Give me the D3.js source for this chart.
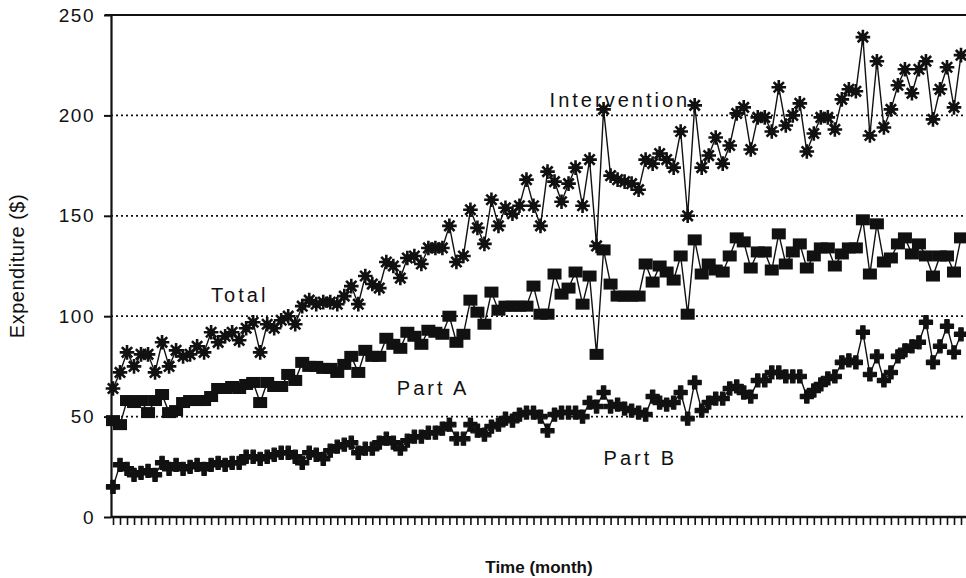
<!DOCTYPE html>
<html>
<head>
<meta charset="utf-8">
<script src="https://cdn.jsdelivr.net/npm/d3@7"></script>
<style>
  html, body { margin: 0; padding: 0; background: #fff; }
  svg text { font-family: "Liberation Sans", Arial, Helvetica, sans-serif; fill: #111; }
</style>
</head>
<body>
<div id="chart"></div>
<script>
// monthly expenditure ($), one value per month
const months = d3.range(122);

const totalValues = [
  64, 72, 82, 75, 81, 81, 72, 87, 75, 83, 80, 81, 85, 82, 92, 87, 90, 92, 88, 94,
  97, 82, 96, 94, 98, 100, 96, 105, 108, 106, 107, 107, 106, 110, 115, 106, 120, 116, 114, 127,
  125, 119, 129, 130, 126, 134, 134, 134, 145, 127, 130, 153, 144, 136, 158, 145, 154, 151, 155, 168,
  155, 145, 172, 167, 157, 166, 174, 155, 178, 135, 203, 170, 168, 167, 166, 163, 178, 176, 181, 178,
  174, 192, 150, 205, 174, 180, 189, 176, 185, 201, 204, 183, 199, 199, 192, 214, 195, 200, 206, 182,
  191, 199, 199, 193, 208, 213, 212, 239, 190, 227, 194, 203, 215, 223, 211, 223, 227, 198, 213, 224,
  204, 230
];

const partAValues = [
  48, 46, 58, 57, 58, 52, 58, 61, 52, 53, 57, 58, 58, 58, 60, 64, 64, 65, 64, 66,
  67, 57, 67, 65, 65, 71, 68, 77, 75, 75, 74, 74, 72, 76, 80, 72, 83, 80, 80, 89,
  86, 84, 92, 90, 86, 93, 92, 91, 100, 87, 91, 108, 102, 96, 112, 103, 105, 105, 105, 105,
  115, 101, 101, 121, 111, 114, 122, 106, 120, 81, 133, 116, 110, 110, 110, 110, 126, 117, 125, 122,
  118, 130, 101, 138, 121, 126, 123, 122, 130, 139, 137, 124, 132, 132, 123, 141, 126, 132, 136, 124,
  130, 134, 134, 125, 131, 134, 134, 148, 121, 146, 127, 129, 136, 139, 131, 136, 130, 120, 130, 130,
  122, 139
];

const partBValues = [
  15, 26, 24, 21, 22, 23, 21, 27, 24, 26, 24, 25, 26, 24, 26, 27, 26, 27, 27, 30,
  30, 29, 30, 31, 32, 32, 30, 27, 32, 31, 29, 33, 35, 36, 37, 32, 34, 34, 37, 39,
  37, 34, 38, 40, 40, 42, 42, 44, 46, 39, 39, 46, 43, 41, 45, 46, 49, 48, 51, 52,
  52, 50, 43, 51, 52, 52, 52, 50, 57, 55, 62, 55, 56, 54, 53, 52, 51, 60, 57, 56,
  57, 62, 49, 67, 53, 57, 59, 59, 64, 65, 62, 60, 68, 68, 72, 72, 70, 70, 70, 60,
  63, 66, 69, 70, 77, 78, 77, 92, 71, 80, 68, 72, 80, 83, 85, 87, 97, 77, 85, 95,
  82, 91
];

const yTicks = [0, 50, 100, 150, 200, 250];
const gridValues = [50, 100, 150, 200];

const seriesLabels = [
  { text: "Total", month: 14, value: 107 },
  { text: "Part A", month: 40.5, value: 61 },
  { text: "Part B", month: 70, value: 26 },
  { text: "Intervention", month: 62.3, value: 204 }
];

const width = 966, height = 578;
const plot = { left: 111, right: 966, top: 15, bottom: 517 };

const svg = d3.select('#chart')
  .append('svg')
  .attr('width', width)
  .attr('height', height);

const xScale = d3.scaleLinear()
  .domain([0, months.length - 1])
  .range([113, 961]);

const yScale = d3.scaleLinear()
  .domain([0, 250])
  .range([plot.bottom, plot.top]);

// dotted gridlines
svg.append('g')
  .selectAll('line')
  .data(gridValues)
  .join('line')
  .attr('x1', plot.left)
  .attr('x2', plot.right)
  .attr('y1', d => yScale(d))
  .attr('y2', d => yScale(d))
  .attr('stroke', '#111')
  .attr('stroke-width', 1.7)
  .attr('stroke-dasharray', '2,3');

// top frame line
svg.append('line')
  .attr('x1', plot.left - 6).attr('x2', plot.right)
  .attr('y1', plot.top).attr('y2', plot.top)
  .attr('stroke', '#111').attr('stroke-width', 2.2);

// y axis
const yAxis = d3.axisLeft(yScale)
  .tickValues(yTicks)
  .tickSize(7)
  .tickSizeOuter(0)
  .tickPadding(9);

const yG = svg.append('g')
  .attr('transform', `translate(${plot.left},0)`)
  .call(yAxis);
yG.select('.domain').attr('stroke', '#111').attr('stroke-width', 2.2);
yG.selectAll('.tick line').attr('stroke', '#111').attr('stroke-width', 2);
yG.selectAll('.tick text')
  .style('font-size', '19px')
  .style('letter-spacing', '1.5px')
  .attr('fill', '#111');

// x axis with a tick for every month
const xAxis = d3.axisBottom(xScale)
  .tickValues(months)
  .tickFormat('')
  .tickSize(8)
  .tickSizeOuter(0);

const xG = svg.append('g')
  .attr('transform', `translate(0,${plot.bottom})`)
  .call(xAxis);
xG.select('.domain').remove();
xG.selectAll('.tick line').attr('stroke', '#111').attr('stroke-width', 1.6);
svg.append('line')
  .attr('x1', plot.left).attr('x2', plot.right)
  .attr('y1', plot.bottom).attr('y2', plot.bottom)
  .attr('stroke', '#111').attr('stroke-width', 2.4);

// axis titles
svg.append('text')
  .attr('transform', `translate(24,${(plot.top + plot.bottom) / 2}) rotate(-90)`)
  .attr('text-anchor', 'middle')
  .style('font-size', '20px')
  .style('letter-spacing', '0.5px')
  .text('Expenditure ($)');

svg.append('text')
  .attr('x', 539)
  .attr('y', 573)
  .attr('text-anchor', 'middle')
  .style('font-size', '17px')
  .style('font-weight', 'bold')
  .text('Time (month)');

// series
const series = [
  { name: 'Total', values: totalValues, marker: 'star' },
  { name: 'Part A', values: partAValues, marker: 'square' },
  { name: 'Part B', values: partBValues, marker: 'cross' }
];

const line = d3.line()
  .x((d, i) => xScale(i))
  .y(d => yScale(d));

svg.append('g')
  .selectAll('path')
  .data(series)
  .join('path')
  .attr('d', d => line(d.values))
  .attr('fill', 'none')
  .attr('stroke', '#111')
  .attr('stroke-width', 1.4);

// asterisk marker: 8 spokes
function starPath(r) {
  const p = d3.path();
  for (let k = 0; k < 4; k++) {
    const a = k * Math.PI / 4;
    p.moveTo(-r * Math.cos(a), -r * Math.sin(a));
    p.lineTo(r * Math.cos(a), r * Math.sin(a));
  }
  return p.toString();
}

const crossSymbol = d3.symbol().type(d3.symbolCross).size(95)();

series.forEach(s => {
  const g = svg.append('g').attr('class', 'marks');
  const pts = g.selectAll('g')
    .data(s.values)
    .join('g')
    .attr('transform', (d, i) => `translate(${xScale(i)},${yScale(d)})`);

  if (s.marker === 'star') {
    pts.append('path')
      .attr('d', starPath(7.3))
      .attr('stroke', '#111')
      .attr('stroke-width', 2.6)
      .attr('fill', 'none');
    pts.append('circle')
      .attr('r', 3.8)
      .attr('fill', '#111');
  } else if (s.marker === 'square') {
    pts.append('rect')
      .attr('x', -7).attr('y', -5.5)
      .attr('width', 14).attr('height', 11)
      .attr('fill', '#111');
  } else {
    pts.append('path')
      .attr('d', crossSymbol)
      .attr('fill', '#111')
      .attr('stroke', '#111')
      .attr('stroke-width', 1.2)
      .attr('stroke-linejoin', 'round');
  }
});

// series labels
svg.append('g')
  .selectAll('text')
  .data(seriesLabels)
  .join('text')
  .attr('x', d => xScale(d.month))
  .attr('y', d => yScale(d.value))
  .style('font-size', '20px')
  .style('letter-spacing', '3px')
  .text(d => d.text);
</script>
</body>
</html>
